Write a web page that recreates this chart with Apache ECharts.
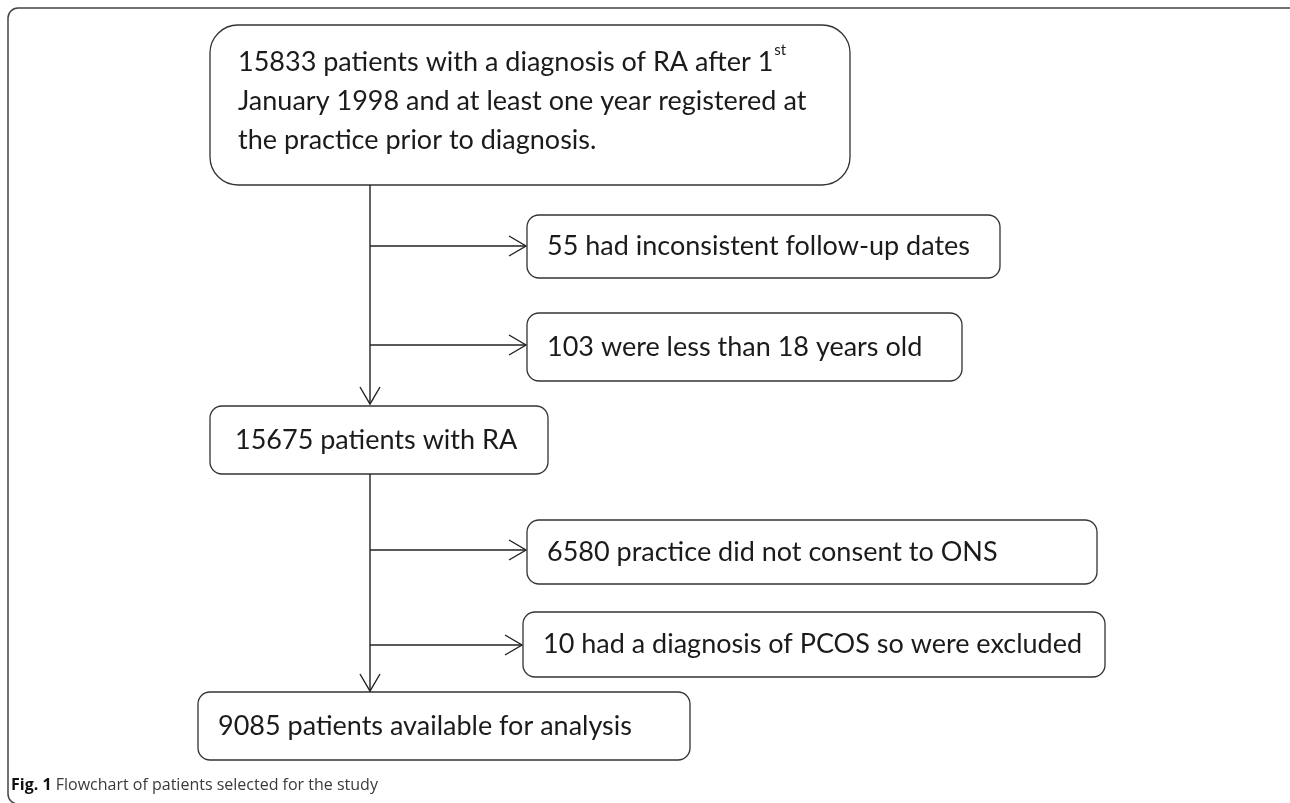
<!DOCTYPE html>
<html>
<head>
<meta charset="utf-8">
<script src="https://cdn.jsdelivr.net/npm/echarts@6/dist/echarts.min.js"></script>
<style>
  html, body { margin: 0; padding: 0; background: #fff; }
  #chart { width: 1290px; height: 803px; }
</style>
</head>
<body>
<div id="chart"></div>
<script>
// flow steps (main column) and the exclusions branching off it
const mainSteps = [
  ['15833 patients with a diagnosis of RA after 1{sup|st}',
   'January 1998 and at least one year registered at',
   'the practice prior to diagnosis.'],
  ['15675 patients with RA'],
  ['9085 patients available for analysis']
]
const exclusions = [
  '55 had inconsistent follow-up dates',
  '103 were less than 18 years old',
  '6580 practice did not consent to ONS',
  '10 had a diagnosis of PCOS so were excluded'
]
const captionLabel = 'Fig. 1'
const captionText = 'Flowchart of patients selected for the study'

// layout (pixels)
const trunkX = 370
const mainBoxes = [
  { x: 210, y: 25, w: 640, h: 160, r: 28, tx: 238 },
  { x: 210, y: 406, w: 338, h: 68, r: 12, tx: 235 },
  { x: 198, y: 692, w: 492, h: 68, r: 12, tx: 218 }
]
const exclBoxes = [
  { x: 527, y: 215, w: 473, h: 63, arrowY: 246 },
  { x: 527, y: 313, w: 435, h: 68, arrowY: 345 },
  { x: 527, y: 520, w: 570, h: 64, arrowY: 550 },
  { x: 523, y: 612, w: 582, h: 65, arrowY: 645 }
]

const FONT = 'Lato, "Open Sans", sans-serif'
const ink = '#1b1b1b'
const lineStyle = { stroke: '#222', lineWidth: 1.4, fill: null }

function arrowHead(x, y, dir) {
  // open chevron pointing right ('r') or down ('d')
  const pts = dir === 'r'
    ? [[x - 17, y - 10], [x, y], [x - 17, y + 10]]
    : [[x - 10, y - 17], [x, y], [x + 10, y - 17]]
  return { type: 'polyline', shape: { points: pts }, style: lineStyle }
}

function line(x1, y1, x2, y2) {
  return { type: 'line', shape: { x1, y1, x2, y2 }, style: lineStyle }
}

const elements = []

// outer frame
elements.push({
  type: 'rect',
  shape: { x: 8, y: 8, width: 1400, height: 796, r: 10 },
  style: { stroke: '#444', lineWidth: 1.5, fill: null }
})

// main boxes
mainSteps.forEach((lines, i) => {
  const b = mainBoxes[i]
  elements.push({
    type: 'rect',
    shape: { x: b.x, y: b.y, width: b.w, height: b.h, r: b.r },
    style: { stroke: '#333', lineWidth: 1.3, fill: '#fff' }
  })
  elements.push({
    type: 'text',
    x: b.tx,
    y: b.y + b.h / 2 - (lines.length > 1 ? 4 : 0),
    style: {
      text: lines.join('\n'),
      font: '27px ' + FONT,
      fill: ink,
      verticalAlign: 'middle',
      align: 'left',
      lineHeight: 39,
      rich: {
        sup: { fontSize: 15, fontFamily: FONT, fill: ink, verticalAlign: 'top', padding: [0, 0, 6, 1] }
      }
    }
  })
})

// trunk: box1 -> box2 -> box3
elements.push(line(trunkX, mainBoxes[0].y + mainBoxes[0].h, trunkX, mainBoxes[1].y - 2))
elements.push(arrowHead(trunkX, mainBoxes[1].y - 2, 'd'))
elements.push(line(trunkX, mainBoxes[1].y + mainBoxes[1].h, trunkX, mainBoxes[2].y - 1))
elements.push(arrowHead(trunkX, mainBoxes[2].y - 1, 'd'))

// exclusion boxes with side arrows
exclusions.forEach((label, i) => {
  const b = exclBoxes[i]
  elements.push(line(trunkX, b.arrowY, b.x - 1, b.arrowY))
  elements.push(arrowHead(b.x - 1, b.arrowY, 'r'))
  elements.push({
    type: 'rect',
    shape: { x: b.x, y: b.y, width: b.w, height: b.h, r: 12 },
    style: { stroke: '#333', lineWidth: 1.3, fill: '#fff' }
  })
  elements.push({
    type: 'text',
    x: b.x + 20,
    y: b.y + b.h / 2,
    style: { text: label, font: '27px ' + FONT, fill: ink, verticalAlign: 'middle', align: 'left' }
  })
})

// caption
elements.push({
  type: 'text',
  x: 11,
  y: 785,
  style: {
    text: '{b|' + captionLabel + '} ' + captionText,
    font: '16px "Open Sans", sans-serif',
    fill: '#3a3a3a',
    verticalAlign: 'middle',
    rich: {
      b: { fontWeight: 'bold', fontSize: 16, fontFamily: '"Open Sans", sans-serif', fill: '#111' }
    }
  }
})

const chart = echarts.init(document.getElementById('chart'), null, { renderer: 'canvas' })
chart.setOption({
  backgroundColor: '#fff',
  animation: false,
  graphic: { elements }
})
window.addEventListener('resize', chart.resize)
</script>
</body>
</html>
